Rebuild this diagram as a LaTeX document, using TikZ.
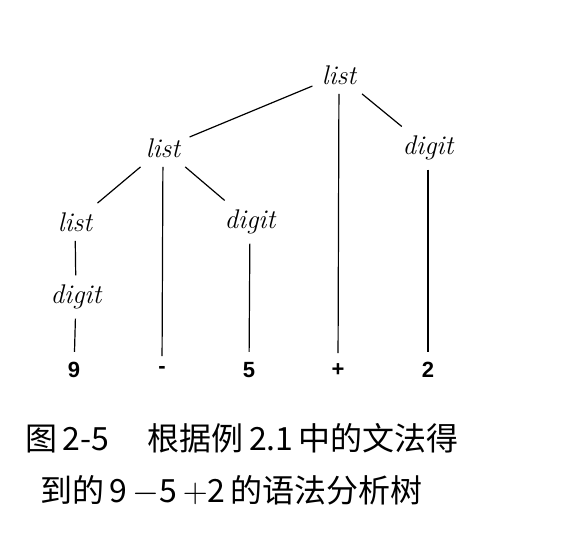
\documentclass[tikz,border=0pt]{standalone}
\usepackage{fontspec}
\newfontfamily\cjk{Noto Sans CJK SC}
\newfontfamily\leaffont{Liberation Sans}
\tikzset{
  nt/.style={font=\fontsize{13.5}{16}\selectfont\itshape, inner sep=4.5pt},
  leaf/.style={font=\leaffont\fontsize{11}{13}\selectfont\bfseries, inner sep=5pt},
  branch/.style={line width=0.6pt},
  caption/.style={font=\cjk\fontsize{16}{19}\selectfont, inner sep=0pt, anchor=west}
}
\begin{document}
\begin{tikzpicture}[x=0.5pt,y=-0.5pt]
        % Frame
        \useasboundingbox (0,0) rectangle (564,542);

        % Nonterminals
        \node[nt] (root) at (339,75) {list};
        \node[nt] (listA) at (163,148) {list};
        \node[nt] (digitR) at (428,148) {digit};
        \node[nt] (listB) at (75,222) {list};
        \node[nt] (digitM) at (250,222) {digit};
        \node[nt] (digitL) at (76,297) {digit};

        % Leaves
        \node[leaf] (nine) at (74,370) {9};
        \node[leaf] (minus) at (162,370) {-};
        \node[leaf] (five) at (249,370) {5};
        \node[leaf] (plus) at (338,370) {+};
        \node[leaf] (two) at (428,370) {2};

        % Branches
        \draw[branch] (root) -- (listA);
        \draw[branch] (root) -- (plus);
        \draw[branch] (root) -- (digitR);
        \draw[branch] (listA) -- (listB);
        \draw[branch] (listA) -- (minus);
        \draw[branch] (listA) -- (digitM);
        \draw[branch] (listB) -- (digitL);
        \draw[branch] (digitL) -- (nine);
        \draw[branch] (digitM) -- (five);
        \draw[branch] (digitR) -- (two);

        % Caption
        \node[caption] (capA) at (25,438) {图\,2-5\hspace{1.2em}根据例\,2.1\,中的文法得};
        \node[caption] (capB) at (40,490) {到的\,9\,$-$5\,$+$2\,的语法分析树};
\end{tikzpicture}
\end{document}
